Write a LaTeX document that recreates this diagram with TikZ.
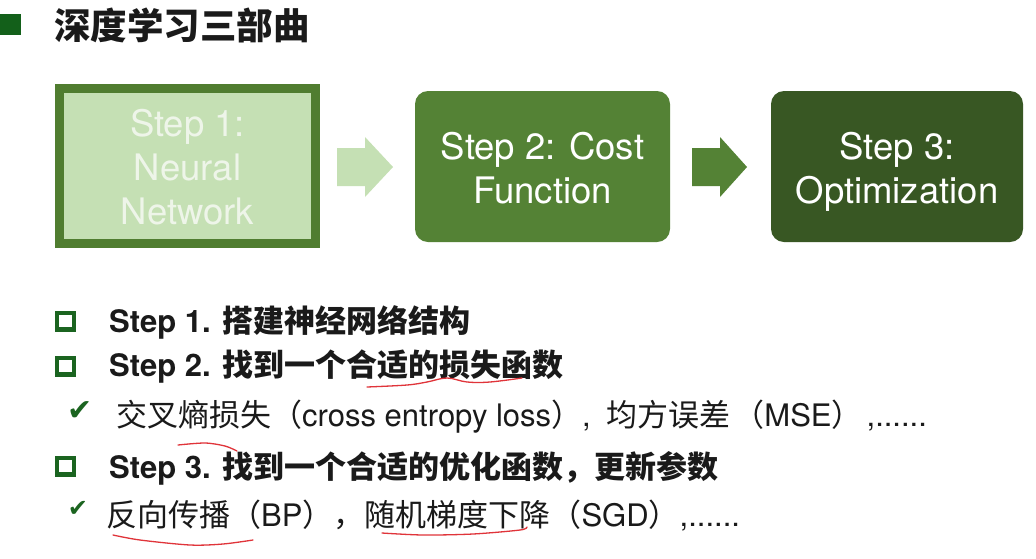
\documentclass[tikz,border=0pt]{standalone}
\usepackage{fontspec}
\setmainfont{TeX Gyre Heros}
\newfontfamily\cjk{Noto Sans CJK SC}
\newfontfamily\symfont{DejaVu Sans}
\definecolor{titlegreen}{HTML}{13601A}
\definecolor{lightgreen}{HTML}{C5E0B4}
\definecolor{midgreen}{HTML}{548235}
\definecolor{darkgreen}{HTML}{385723}
\definecolor{bordergreen}{HTML}{507D30}
\definecolor{paletext}{HTML}{EEF5E9}
\definecolor{bulletgreen}{HTML}{1B6420}
\definecolor{inkred}{HTML}{E0343A}
\definecolor{bodytext}{HTML}{1A1A1A}
\tikzset{
  stepbox/.style={minimum width=#1, minimum height=151pt, inner sep=0pt},
  steptext/.style={inner sep=0pt, align=center, text=white,
    font=\fontsize{36.5}{44}\selectfont},
  bullet/.style={draw=bulletgreen, line width=4.5pt, minimum width=17pt,
    minimum height=16.5pt, inner sep=0pt},
  tick/.style={text=bulletgreen, inner sep=0pt, font=\symfont\fontsize{#1}{#1}\selectfont},
  item/.style={anchor=west, inner sep=0pt, text=bodytext,
    font=\fontsize{31}{35}\selectfont},
  redline/.style={draw=inkred, line width=1.3pt, line cap=round},
}
\begin{document}
\begin{tikzpicture}[x=1pt,y=-1pt]
\useasboundingbox (0,0) rectangle (1036,558);
\fill[white] (0,0) rectangle (1036,558);

% heading
\fill[titlegreen] (0,14) rectangle (21,35);
\node[anchor=west, inner sep=0pt, text=bodytext] (title) at (54,25)
  {\cjk\bfseries\fontsize{36.5}{40}\selectfont 深度学习三部曲};

% the three steps
\node[stepbox=256pt, minimum height=155pt, fill=lightgreen, draw=bordergreen,
  line width=9pt] (s1) at (187.5,166) {};
\node[stepbox=255pt, fill=midgreen, rounded corners=13pt] (s2) at (542.5,166.5) {};
\node[stepbox=252pt, fill=darkgreen, rounded corners=13pt] (s3) at (897,166.5) {};
\node[steptext, text=paletext] (s1t) at (187.5,172) {\strut Step 1:\\Neural\\Network\strut};
\node[steptext] (s2t) at (542.5,172.5) {\strut Step 2: Cost\\Function\strut};
\node[steptext] (s3t) at (897,172.5) {\strut Step 3:\\Optimization\strut};

% block arrows between the steps
\coordinate (a1) at (337,167);
\coordinate (a2) at (692,167);
\fill[lightgreen] (a1) ++(0,-19) -- ++(28,0) -- ++(0,-11) -- ++(28,30)
  -- ++(-28,30) -- ++(0,-11) -- ++(-28,0) -- cycle;
\fill[midgreen] (a2) ++(0,-19) -- ++(28,0) -- ++(0,-11) -- ++(27,30)
  -- ++(-27,30) -- ++(0,-11) -- ++(-28,0) -- cycle;

% bullet list
\node[bullet] (b1) at (65.5,321) {};
\node[item] (t1) at (109,322) {\bfseries Step 1. {\cjk 搭建神经网络结构}};
\node[bullet] (b2) at (65.5,366) {};
\node[item] (t2) at (109,367) {\bfseries Step 2. {\cjk 找到一个合适的损失函数}};
\node[tick=30] (c3) at (80.5,411.5) {✔};
\node[item] (t3) at (116,417) {{\cjk 交叉熵损失（}cross entropy loss{\cjk ）},\hspace{7pt} {\cjk 均方误差\hspace{3pt}（}MSE{\cjk ）}\hspace{4pt},......};
\node[bullet] (b4) at (65.5,466) {};
\node[item] (t4) at (109,468) {\bfseries Step 3. {\cjk 找到一个合适的优化函数，更新参数}};
\node[tick=24] (c5) at (78,509) {✔};
\node[item] (t5) at (106,515) {{\cjk 反向传播（}BP{\cjk ），随机梯度下降（}SGD{\cjk ）},......};

% hand-drawn red underlines
\draw[redline] plot[smooth, tension=0.6] coordinates
  {(367,387) (407,385) (427,382) (447,378) (467,382) (490,382) (522,378)};
\draw[redline] plot[smooth] coordinates {(178,445) (205,443) (225,446) (237,451)};
\draw[redline] plot[smooth] coordinates {(113,535) (140,540) (190,545) (223,544) (253,540)};
\draw[redline] plot[smooth] coordinates {(382,533) (423,535) (473,534) (520,530) (527,527)};
\end{tikzpicture}
\end{document}
